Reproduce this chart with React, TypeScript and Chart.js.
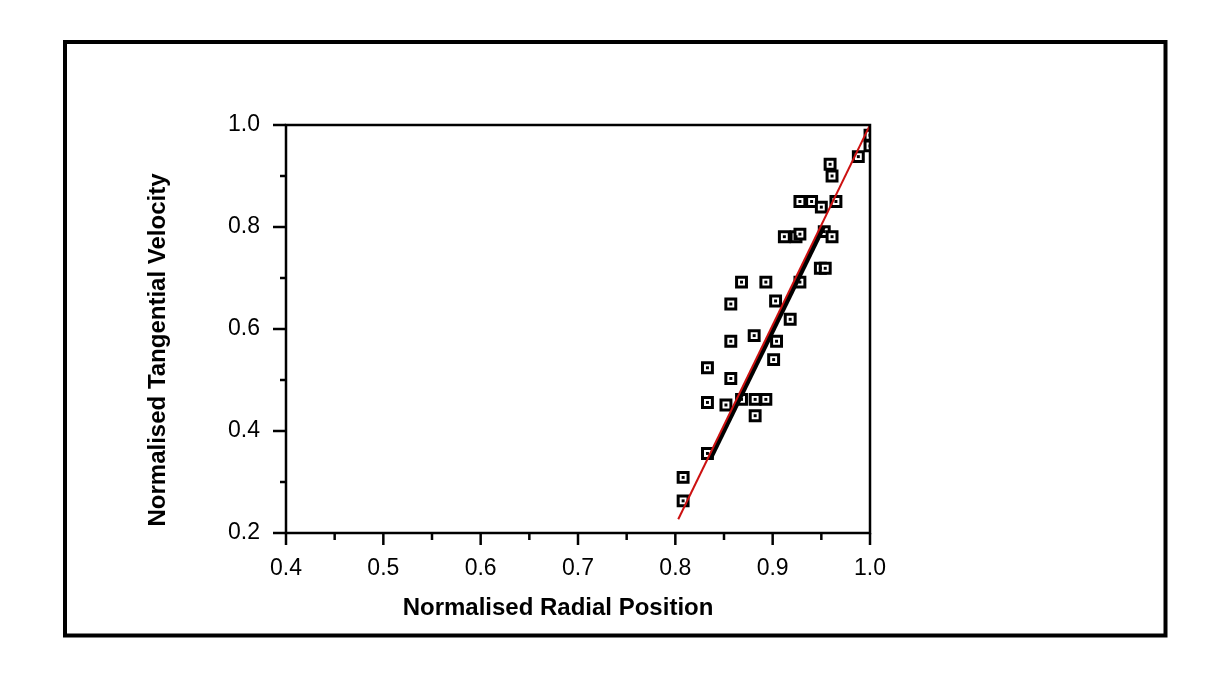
import React, { useEffect, useRef } from "react";
import { Chart, registerables } from "chart.js";

Chart.register(...registerables);

// Measured points (normalised radial position, normalised tangential velocity)
const radialPosition = [
  1.0, 1.0, 0.988, 0.959, 0.961, 0.928, 0.94, 0.95, 0.965, 0.912, 0.924, 0.928,
  0.953, 0.961, 0.949, 0.954, 0.868, 0.893, 0.928, 0.857, 0.903, 0.918, 0.857,
  0.881, 0.904, 0.901, 0.833, 0.857, 0.833, 0.852, 0.868, 0.882, 0.893, 0.882,
  0.833, 0.808, 0.808,
];
const tangentialVelocity = [
  0.98, 0.959, 0.938, 0.923, 0.9, 0.85, 0.85, 0.839, 0.85, 0.781, 0.781, 0.786,
  0.791, 0.781, 0.719, 0.719, 0.692, 0.692, 0.692, 0.649, 0.655, 0.619, 0.576,
  0.587, 0.576, 0.54, 0.524, 0.503, 0.456, 0.451, 0.462, 0.462, 0.462, 0.43,
  0.356, 0.309, 0.263,
];

// Red reference line
const redLineX = [0.803, 1.0];
const redLineY = [0.227, 1.0];
// Black fitted line
const blackLineX = [0.836, 0.952];
const blackLineY = [0.347, 0.8];

const xTickLabels = ["0.4", "0.5", "0.6", "0.7", "0.8", "0.9", "1.0"];
const yTickLabels = ["0.2", "0.4", "0.6", "0.8", "1.0"];

const xTitle = "Normalised Radial Position";
const yTitle = "Normalised Tangential Velocity";

const FONT = "'Liberation Sans', Arial, Helvetica, sans-serif";

function labelFor(labels: string[], value: number): string {
  const hit = labels.find((l) => Math.abs(parseFloat(l) - value) < 1e-6);
  return hit ?? "";
}

const framePlugin = {
  id: "framePlugin",
  afterDraw(chart: any) {
    const ctx = chart.ctx;
    const area = chart.chartArea;
    ctx.save();
    ctx.strokeStyle = "#000";
    // outer border of the figure
    ctx.lineWidth = 4;
    ctx.strokeRect(65, 42, 1100.5, 593.5);
    // plot frame
    ctx.lineWidth = 2.5;
    ctx.strokeRect(area.left, area.top, area.right - area.left, area.bottom - area.top);
    // tick marks
    const xs = chart.scales.x;
    xs.ticks.forEach((t: any) => {
      const px = xs.getPixelForValue(t.value);
      const major = labelFor(xTickLabels, t.value) !== "";
      ctx.beginPath();
      ctx.moveTo(px, area.bottom);
      ctx.lineTo(px, area.bottom + (major ? 12 : 7));
      ctx.stroke();
    });
    const ys = chart.scales.y;
    ys.ticks.forEach((t: any) => {
      const py = ys.getPixelForValue(t.value);
      const major = labelFor(yTickLabels, t.value) !== "";
      ctx.beginPath();
      ctx.moveTo(area.left, py);
      ctx.lineTo(area.left - (major ? 13 : 6), py);
      ctx.stroke();
    });
    // axis titles
    ctx.fillStyle = "#000";
    ctx.font = `bold 24px ${FONT}`;
    ctx.textAlign = "center";
    ctx.textBaseline = "middle";
    ctx.fillText(xTitle, 558, 608);
    ctx.translate(158, 350);
    ctx.rotate(-Math.PI / 2);
    ctx.fillText(yTitle, 0, 0);
    ctx.restore();
  },
};

export default function App() {
  const ref = useRef<HTMLCanvasElement | null>(null);

  useEffect(() => {
    if (!ref.current) return;
    const points = radialPosition.map((x, i) => ({ x, y: tangentialVelocity[i] }));
    const red = redLineX.map((x, i) => ({ x, y: redLineY[i] }));
    const black = blackLineX.map((x, i) => ({ x, y: blackLineY[i] }));

    const chart = new Chart(ref.current, {
      type: "scatter",
      data: {
        datasets: [
          {
            data: red,
            showLine: true,
            borderColor: "#cc1111",
            borderWidth: 2,
            pointRadius: 0,
            fill: false,
          },
          {
            data: black,
            showLine: true,
            borderColor: "#000000",
            borderWidth: 5,
            pointRadius: 0,
            fill: false,
          },
          {
            data: points,
            pointStyle: "rect",
            pointRadius: 2.1,
            pointBorderWidth: 0,
            pointBackgroundColor: "#000",
            pointBorderColor: "#000",
          },
          {
            data: points,
            pointStyle: "rect",
            pointRadius: 7,
            pointBorderWidth: 3,
            pointBackgroundColor: "#fff",
            pointBorderColor: "#000",
          },
        ],
      },
      options: {
        responsive: false,
        animation: false,
        devicePixelRatio: 1,
        layout: { padding: { top: 125, right: 355, left: 146, bottom: 0 } },
        plugins: { legend: { display: false }, tooltip: { enabled: false } },
        scales: {
          x: {
            type: "linear",
            min: 0.4,
            max: 1.0,
            afterFit: (s: any) => {
              s.height = 141;
            },
            border: { display: false },
            grid: { display: false, drawTicks: false },
            ticks: {
              stepSize: 0.05,
              autoSkip: false,
              maxRotation: 0,
              padding: 22,
              color: "#000",
              font: { family: FONT, size: 23 },
              callback: (v: any) => labelFor(xTickLabels, Number(v)),
            },
            title: { display: false },
          },
          y: {
            type: "linear",
            min: 0.2,
            max: 1.0,
            afterFit: (s: any) => {
              s.width = 140;
            },
            border: { display: false },
            grid: { display: false, drawTicks: false },
            ticks: {
              stepSize: 0.1,
              autoSkip: false,
              padding: 26,
              color: "#000",
              font: { family: FONT, size: 23 },
              callback: (v: any) => labelFor(yTickLabels, Number(v)),
            },
            title: { display: false },
          },
        },
      },
      plugins: [framePlugin],
    });
    return () => chart.destroy();
  }, []);

  return (
    <div style={{ position: "fixed", left: 0, top: 0, width: 1225, height: 674, background: "#fff" }}>
      <canvas ref={ref} width={1225} height={674} style={{ display: "block", width: 1225, height: 674 }} />
    </div>
  );
}
